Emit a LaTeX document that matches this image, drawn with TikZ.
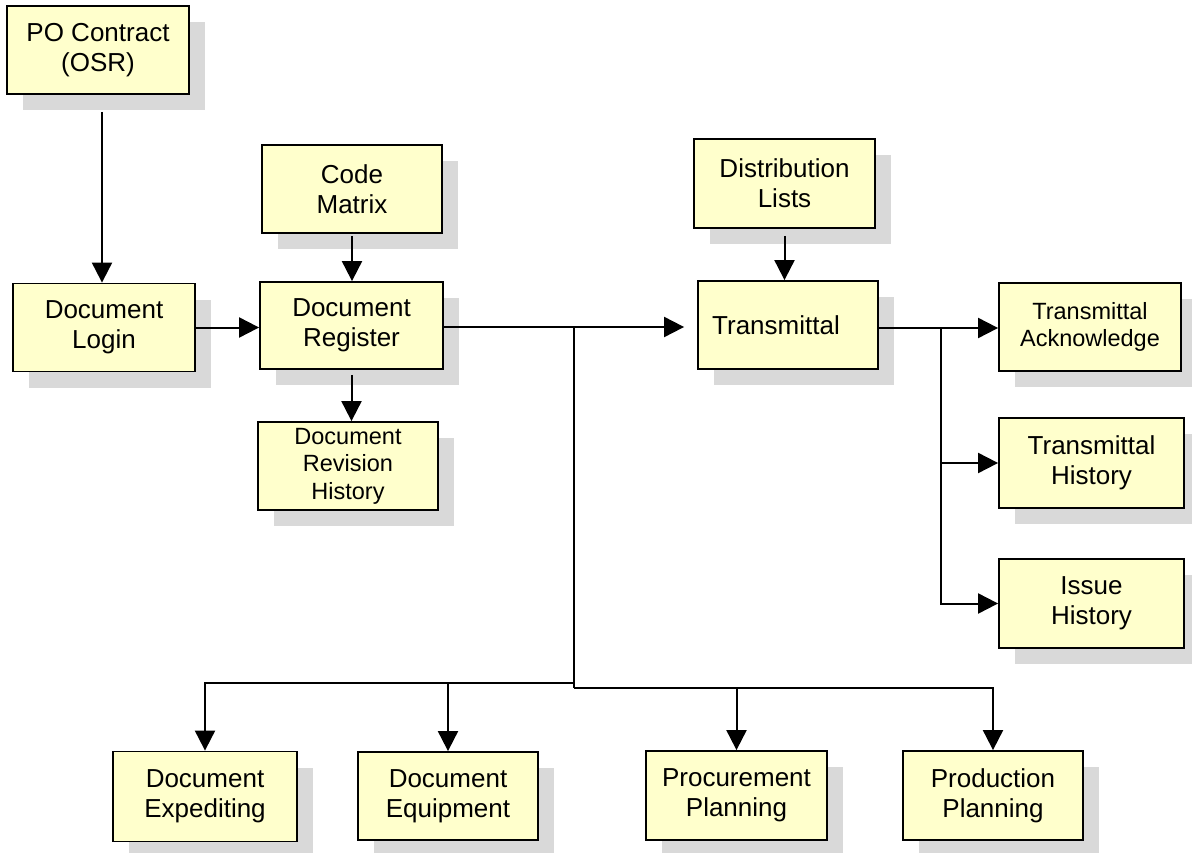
\documentclass[tikz,border=0pt]{standalone}
\usepackage{fontspec}
\setmainfont{Liberation Sans}
\usetikzlibrary{shadows,arrows.meta,calc}
\definecolor{boxfill}{HTML}{FFFFCC}
\definecolor{shadowgray}{HTML}{D9D9D9}
\begin{document}
\begin{tikzpicture}[x=1pt,y=-1pt,
  box/.style={draw=black, line width=1.8pt, fill=boxfill, minimum width=182pt, minimum height=88pt,
    inner sep=0pt, align=center, font=\fontsize{26}{30}\selectfont,
    drop shadow={shadow xshift=16pt, shadow yshift=-16pt, fill=shadowgray, opacity=1, draw=none}},
  smalltext/.style={font=\fontsize{23.5}{27.5}\selectfont},
  conn/.style={line width=2pt, draw=black},
  arr/.style={conn, -{Triangle[length=20pt,width=20pt]}}]
\useasboundingbox (0,0) rectangle (1192,853);

\node[box] (po) at (98,50) {PO Contract\\(OSR)};
\node[box] (login) at (104,327.5) {Document\\Login};
\node[box, minimum width=180pt] (code) at (352,189) {Code\\Matrix};
\node[box, minimum width=183pt, minimum height=87pt] (reg) at (351.5,325.5) {Document\\Register};
\node[box, smalltext, minimum width=180pt] (rev) at (348,466) {Document\\Revision\\History};
\node[box, minimum width=181pt, minimum height=89pt] (dist) at (784.5,183.5) {Distribution\\Lists};
\node[box, minimum width=180pt] (trans) at (788,325) {\hspace*{-24pt}Transmittal};
\node[box, smalltext] (ack) at (1090,327) {Transmittal\\Acknowledge};
\node[box, minimum width=185pt, minimum height=90pt] (th) at (1091.5,463) {Transmittal\\History};
\node[box, minimum width=185pt, minimum height=89pt] (issue) at (1091.5,603.5) {Issue\\History};
\node[box, minimum width=184pt, minimum height=90pt] (exp) at (205,796.5) {Document\\Expediting};
\node[box, minimum width=180pt] (equip) at (448,796) {Document\\Equipment};
\node[box, minimum width=181pt, minimum height=89pt] (proc) at (736.5,795.5) {Procurement\\Planning};
\node[box, minimum width=180pt, minimum height=89pt] (prod) at (993,795.5) {Production\\Planning};

\coordinate (j1) at (574,327);
\coordinate (j2) at (574,683);
\coordinate (j3) at (574,688);
\coordinate (j4) at (941,328);

\draw[arr] ($(po.south -| login.north)+(-2,17)$) -- ($(login.north)+(-2,0)$);
\draw[arr] (login.east) -- (login.east -| reg.west);
\draw[arr] ($(code.south)+(0,2)$) -- (code.south |- reg.north);
\draw[arr] ($(reg.south)+(0,5)$) -- (reg.south |- rev.north);
\draw[arr] (reg.east |- j1) -- ($(trans.west |- j1)+(-13,0)$);
\draw[conn] (j1) -- (j3);
\draw[arr] (j2) -| (exp.north);
\draw[arr] (equip.north |- j2) -- (equip.north);
\draw[arr] (j3) -| (prod.north);
\draw[arr] (proc.north |- j3) -- (proc.north);
\draw[arr] ($(dist.south)+(0,7)$) -- (dist.south |- trans.north);
\draw[arr] (trans.east |- j4) -- (ack.west |- j4);
\draw[arr] (j4) |- (issue.west);
\draw[arr] (j4 |- th.west) -- (th.west);
\end{tikzpicture}
\end{document}
